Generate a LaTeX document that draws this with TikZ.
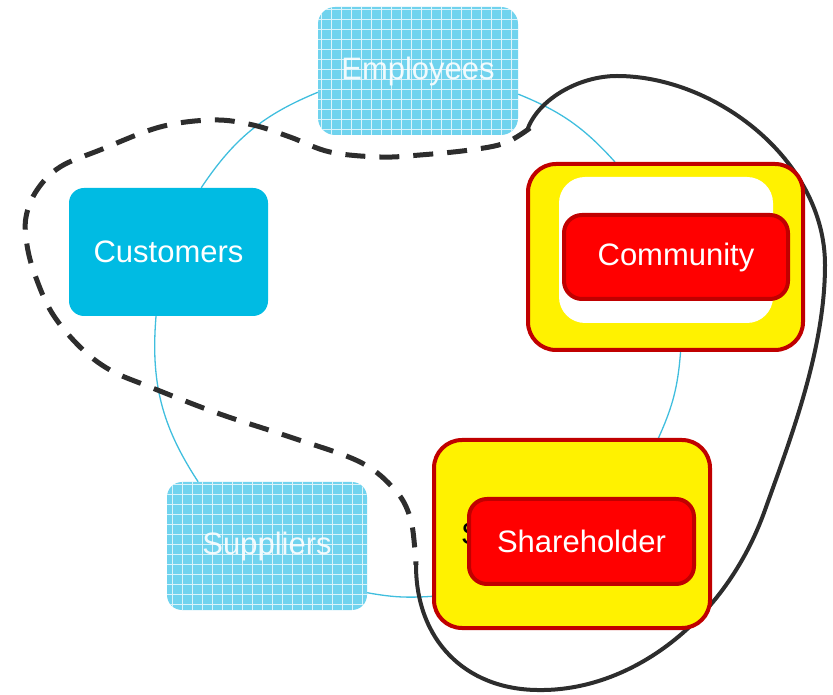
\documentclass[tikz,border=0pt]{standalone}
\usepackage{fontspec}
\setmainfont{Liberation Sans}
\usetikzlibrary{backgrounds}
\definecolor{cyanbox}{RGB}{0,187,227}
\definecolor{lightbox}{RGB}{112,211,238}
\definecolor{linkc}{RGB}{64,190,222}
\definecolor{darkred}{RGB}{192,0,0}
\definecolor{loopgray}{RGB}{45,45,45}
\tikzset{
  boxbase/.style={rounded corners=15pt, inner sep=0pt, text=white, font=\fontsize{31}{37}\selectfont},
  gridbox/.style={boxbase, fill=lightbox, text opacity=0.9,
    path picture={\draw[white, line width=0.7pt, opacity=0.75, step=10pt]
      (path picture bounding box.south west) grid (path picture bounding box.north east);}},
  outerbox/.style={draw=darkred, line width=4pt, fill=yellow, rounded corners=28pt, inner sep=0pt},
  redbox/.style={boxbase, fill=red, draw=darkred, line width=4pt, rounded corners=18pt},
  linkline/.style={draw=linkc, line width=1.3pt},
  dashloop/.style={draw=loopgray, line width=5pt, dash pattern=on 20pt off 14pt},
  solidloop/.style={draw=loopgray, line width=4pt, line cap=round}
}
\begin{document}
\begin{tikzpicture}[x=1pt,y=1pt]
\useasboundingbox (0,0) rectangle (833,694);
% nodes
\node[gridbox, minimum width=200pt, minimum height=128pt, rounded corners=17pt] (emp) at (418,623) {Employees};
\node[boxbase, fill=cyanbox, minimum width=199pt, minimum height=128pt] (cust) at (168.5,442) {Customers};
\node[gridbox, minimum width=200pt, minimum height=128pt] (sup) at (267,148) {Suppliers};
\node[outerbox, minimum width=275pt, minimum height=186pt] (com) at (665.5,437) {};
\node[fill=white, rounded corners=26pt, minimum width=214pt, minimum height=146pt, inner sep=0pt] (comin) at (666,444) {};
\node[redbox, minimum width=224pt, minimum height=84pt] (comred) at (676,437) {Community};
\node[outerbox, minimum width=276pt, minimum height=188pt] (sh) at (572,160) {};
\node[anchor=west, inner sep=0pt, font=\fontsize{31}{37}\selectfont, text=black] (shlabel) at (461,161) {Shareholder};
\node[redbox, minimum width=225pt, minimum height=85pt] (shred) at (581.5,152.5) {Shareholder};
\begin{scope}[on background layer]
  \draw[linkline] (emp.192) to[bend right=17] (cust.63);
  \draw[linkline] (emp.347) to[bend left=13] (com.118);
  \draw[linkline] (com.279) to[bend left=10] (sh.48);
  \draw[linkline] (sh.204) to[bend left=7] (sup.335);
  \draw[linkline] (sup.137) to[bend left=19] (cust.259);
  % dashed half of the loop
  \draw[dashloop] plot[smooth, tension=0.6] coordinates {
    (530,566) (505,551) (470,544) (420,539) (380,537) (330,542) (290,557)
    (253,569) (213,574) (160,567) (100,544) (60,527) (37,504) (26,477)
    (27,449) (35,419) (52,381) (80,347) (110,324) (150,307) (217,281)
    (290,257) (360,232) (395,204) (410,177) (415,144) (416,129)};
  % solid half of the loop
  \draw[solidloop] (528,566)
    .. controls (540,596) and (580,618) .. (617,618)
    .. controls (715,618) and (825,534) .. (825,429)
    .. controls (825,344) and (790,254) .. (765,184)
    .. controls (725,72) and (630,2) .. (537,4)
    .. controls (465,5) and (416,54) .. (416,129);
\end{scope}
\end{tikzpicture}
\end{document}
